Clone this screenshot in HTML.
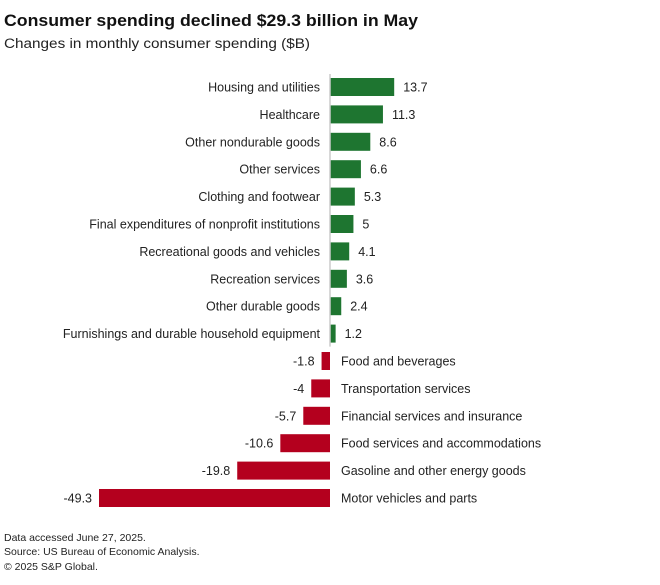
<!DOCTYPE html>
<html><head><meta charset="utf-8"><style>
body{margin:0;background:#fff;}
svg{display:block;font-family:"Liberation Sans",sans-serif;}
</style></head><body>
<svg id="chart" width="660" height="585">
<text x="4" y="26" font-size="17" font-weight="bold" fill="#111" textLength="414" lengthAdjust="spacingAndGlyphs">Consumer spending declined $29.3 billion in May</text>
<text x="4" y="48" font-size="13.5" fill="#222" textLength="306" lengthAdjust="spacingAndGlyphs">Changes in monthly consumer spending ($B)</text>
<g id="bars"></g>
<text x="4" y="541" font-size="10.5" fill="#222">Data accessed June 27, 2025.</text>
<text x="4" y="555" font-size="10.5" fill="#222">Source: US Bureau of Economic Analysis.</text>
<text x="4" y="570" font-size="10.5" fill="#222">© 2025 S&amp;P Global.</text>
</svg>
<script>
const categories=["Housing and utilities","Healthcare","Other nondurable goods","Other services","Clothing and footwear","Final expenditures of nonprofit institutions","Recreational goods and vehicles","Recreation services","Other durable goods","Furnishings and durable household equipment","Food and beverages","Transportation services","Financial services and insurance","Food services and accommodations","Gasoline and other energy goods","Motor vehicles and parts"];
const values=[13.7,11.3,8.6,6.6,5.3,5,4.1,3.6,2.4,1.2,-1.8,-4,-5.7,-10.6,-19.8,-49.3];
const labels=["13.7","11.3","8.6","6.6","5.3","5","4.1","3.6","2.4","1.2","-1.8","-4","-5.7","-10.6","-19.8","-49.3"];
const NS="http://www.w3.org/2000/svg";
const g=document.getElementById('bars');
const x0=330, k=231/49.3;
const xScale=v=>x0+v*k;
const yScale=i=>87+i*27.4;
const bh=18;
function mk(t,a){const e=document.createElementNS(NS,t);for(const n in a)e.setAttribute(n,a[n]);return e;}
values.forEach((v,i)=>{
  const y=yScale(i);
  const xa=xScale(Math.min(v,0)), xb=xScale(Math.max(v,0));
  const r=mk('rect',{x:xa,y:y-bh/2,width:Math.max(xb-xa,0.5),height:bh,fill:v>=0?'#1e7530':'#b4001e'});
  
  
  g.appendChild(r);
  const c=mk('text',{x:v>=0?x0-10:x0+11,y:y+4.5,'font-size':12.5,fill:'#222','text-anchor':v>=0?'end':'start'});
  c.textContent=categories[i];
  
  
  g.appendChild(c);
  const l=mk('text',{x:v>=0?xb+9:xa-7,y:y+4.5,'font-size':12.5,fill:'#222','text-anchor':v>=0?'start':'end'});
  l.textContent=labels[i];
  
  
  g.appendChild(l);
});
const ax=mk('line',{x1:x0,x2:x0,y1:yScale(0)-13,y2:yScale(9)+13,stroke:'#ccc','stroke-width':1.5});


g.appendChild(ax);
</script>
</body></html>
